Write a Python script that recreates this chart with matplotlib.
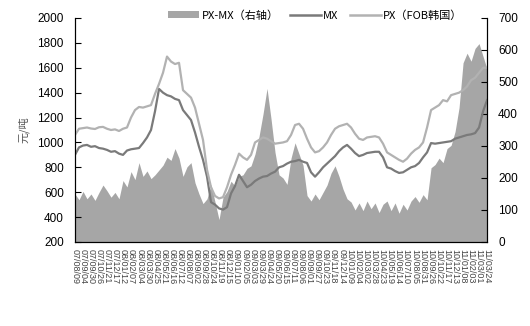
import matplotlib
matplotlib.use("Agg")
import matplotlib.pyplot as plt
from matplotlib.patches import Patch
from matplotlib.lines import Line2D
import numpy as np

plt.rcParams['font.family'] = ['Liberation Sans', 'Noto Sans CJK SC', 'DejaVu Sans']

px = [1060, 1110, 1115, 1120, 1112, 1108, 1122, 1125, 1110, 1100, 1105, 1092, 1110, 1120,
      1200, 1260, 1285, 1280, 1290, 1300, 1390, 1470, 1560, 1690, 1650, 1630, 1640, 1420,
      1390, 1360, 1280, 1150, 1020, 780, 640, 570, 550, 560, 640, 740, 820, 910, 880, 860,
      900, 1000, 1020, 1040, 1030, 1010, 990, 995, 1000, 1010, 1060, 1140, 1150, 1110, 1030,
      960, 920, 930, 960, 1000, 1060, 1110, 1130, 1140, 1150, 1120, 1070, 1030, 1020, 1040,
      1045, 1050, 1040, 990, 920, 900, 880, 860, 845, 870, 910, 940, 960, 1000, 1120, 1260,
      1280, 1300, 1340, 1330, 1380, 1390, 1400, 1420, 1450, 1500, 1520, 1560, 1600, 1600]

mx = [900, 960, 975, 980, 965, 970, 955, 950, 940, 925, 930, 910, 900, 935, 945, 950, 955,
      995, 1040, 1100, 1250, 1430, 1400, 1380, 1370, 1350, 1340, 1260, 1220, 1180, 1080, 965,
      860, 725, 520, 500, 470, 460, 480, 590, 650, 740, 690, 640, 660, 690, 710, 725, 730, 750,
      765, 800, 810, 830, 845, 850, 860, 845, 835, 760, 725, 760, 800, 830, 860, 890, 930, 960,
      980, 950, 915, 890, 900, 915, 920, 925, 925, 880, 800, 790, 770, 755, 760, 780, 800, 810,
      835, 880, 920, 995, 990, 995, 1000, 1005, 1010, 1030, 1040, 1050, 1060, 1065, 1075, 1120,
      1250, 1340]

spread = [150, 132, 158, 135, 150, 130, 155, 178, 160, 140, 155, 135, 192, 172, 220, 195,
          248, 205, 222, 198, 210, 225, 240, 265, 255, 292, 262, 205, 235, 248, 185, 150, 120,
          135, 180, 125, 70, 140, 158, 190, 175, 205, 210, 230, 238, 275, 330, 400, 480, 385,
          280, 210, 200, 180, 262, 310, 275, 240, 145, 128, 150, 132, 155, 178, 215, 238, 205,
          165, 135, 125, 100, 122, 98, 128, 104, 122, 92, 118, 128, 98, 122, 90, 118, 100,
          128, 142, 124, 148, 132, 232, 242, 262, 248, 292, 302, 345, 420, 560, 590, 565, 605,
          620, 580, 540]

tick_labels = ["07/08/09", "07/09/04", "07/09/30", "07/10/26", "07/11/21", "07/12/17",
               "08/01/12", "08/02/07", "08/03/04", "08/03/30", "08/04/25", "08/05/21",
               "08/06/16", "08/07/12", "08/08/07", "08/09/02", "08/09/28", "08/10/24",
               "08/11/19", "08/12/15", "09/01/10", "09/02/05", "09/03/03", "09/03/29",
               "09/04/24", "09/05/20", "09/06/15", "09/07/11", "09/08/06", "09/09/01",
               "09/09/27", "09/10/23", "09/11/18", "09/12/14", "10/01/09", "10/02/04",
               "10/03/02", "10/03/28", "10/04/23", "10/05/19", "10/06/14", "10/07/10",
               "10/08/05", "10/08/31", "10/09/26", "10/10/22", "10/11/17", "10/12/13",
               "11/01/08", "11/02/03", "11/03/01", "11/03/24"]

n = len(px)
x = np.arange(n)

fig = plt.figure(figsize=(5.30, 3.26), dpi=100)
ax = fig.add_axes([0.1415, 0.2577, 0.7775, 0.6871])
ax2 = ax.twinx()

ax2.fill_between(x, 0, spread, color='#a6a6a6', linewidth=0)
ax2.set_ylim(0, 700)
ax2.set_yticks(range(0, 701, 100))

ax.plot(x, mx, color='#7a7a7a', lw=1.6)
ax.plot(x, px, color='#b2b2b2', lw=1.6)
ax.set_ylim(200, 2000)
ax.set_yticks(range(200, 2001, 200))
ax.set_xlim(0, n - 1)

ax.set_zorder(ax2.get_zorder() + 1)
ax.patch.set_visible(False)

pos = np.linspace(0, n - 1, len(tick_labels))
ax.set_xticks(pos)
ax.set_xticklabels(tick_labels, rotation=-90, fontsize=6.5, color='#444444')
ax.tick_params(axis='x', length=0, pad=5)
ax.set_xticks(pos[::2], minor=True)
ax.tick_params(axis='x', which='minor', direction='in', length=4, width=0.8)

for a in (ax, ax2):
    a.spines['top'].set_visible(False)
    for s in ('left', 'right', 'bottom'):
        a.spines[s].set_linewidth(0.8)
        a.spines[s].set_color('black')
ax.tick_params(axis='y', direction='in', length=4, labelsize=8.5, pad=8)
ax2.tick_params(axis='y', direction='in', length=4, labelsize=8.5, pad=8)

ax.set_ylabel('元/吨', family=['Noto Sans CJK SC'], fontsize=8, color='#555555', labelpad=6)

handles = [Patch(facecolor='#a6a6a6', edgecolor='none'),
           Line2D([0], [0], color='#7a7a7a', lw=1.8),
           Line2D([0], [0], color='#b2b2b2', lw=1.8)]
labels = ['PX-MX（右轴）', 'MX', 'PX（FOB韩国）']
fig.legend(handles, labels, loc='center', bbox_to_anchor=(0.595, 0.953), ncol=3,
           frameon=False, handlelength=2.8, handleheight=0.6, handletextpad=0.2,
           columnspacing=1.0, prop={'family': ['Noto Sans CJK SC'], 'size': 8})

fig.savefig('out.png', dpi=100)
